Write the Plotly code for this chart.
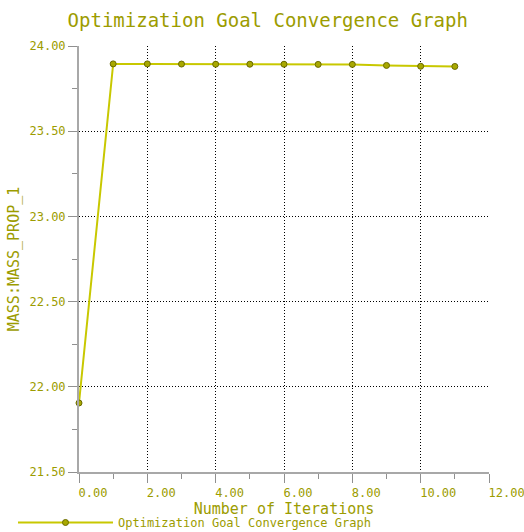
import plotly.graph_objects as go

iterations = [0, 1, 2, 3, 4, 5, 6, 7, 8, 9, 10, 11]
mass_values = [21.905, 23.895, 23.895, 23.894, 23.893, 23.893, 23.893, 23.892, 23.892, 23.886, 23.881, 23.880]
x_ticks = [0, 2, 4, 6, 8, 10, 12]
y_ticks = [21.5, 22.0, 22.5, 23.0, 23.5, 24.0]

TXT = "#9c9c00"
FONT = "DejaVu Sans Mono"

fig = go.Figure()
fig.add_trace(go.Scatter(
    x=iterations, y=mass_values, mode="lines+markers",
    name="Optimization Goal Convergence Graph",
    line=dict(color="#c8c800", width=2),
    marker=dict(symbol="circle", size=6, color="#a8a800", line=dict(color="#6b6b00", width=1)),
    cliponaxis=False,
))

fig.update_layout(
    width=524, height=532,
    margin=dict(l=79, r=35, t=46, b=60, autoexpand=False),
    paper_bgcolor="white", plot_bgcolor="white",
    font=dict(family=FONT, color=TXT, size=12),
    title=dict(text="Optimization Goal Convergence Graph", x=0.511, xanchor="center",
               y=1 - 20 / 532, yanchor="middle", font=dict(family=FONT, size=19, color=TXT)),
    showlegend=True,
    legend=dict(orientation="h", x=-0.161, xanchor="left", y=-0.0845, yanchor="top",
                itemwidth=95, font=dict(family=FONT, size=12, color=TXT),
                bgcolor="rgba(0,0,0,0)"),
)

fig.update_xaxes(
    range=[0, 12], tickvals=x_ticks, tickformat=".2f",
    ticklabelposition="outside right", automargin=False,
    ticklabeloverflow="allow", ticklabelstandoff=9, ticklabelshift=-2,
    showgrid=True, gridcolor="black", griddash="1px,2px", gridwidth=1,
    showline=True, linecolor="#a8a8a8", linewidth=2,
    ticks="outside", ticklen=9, tickcolor="#909090", tickwidth=1,
    minor=dict(dtick=1, ticks="outside", ticklen=5, tickcolor="#909090", showgrid=False),
    zeroline=False,
    tickfont=dict(family=FONT, size=12, color=TXT),
    title=dict(text="Number of Iterations", standoff=1, font=dict(family=FONT, size=15, color=TXT)),
)
fig.update_yaxes(
    range=[21.5, 24.0], tickvals=y_ticks, tickformat=".2f", automargin=False,
    showgrid=True, gridcolor="black", griddash="1px,2px", gridwidth=1,
    showline=True, linecolor="#a8a8a8", linewidth=2,
    ticks="outside", ticklen=9, tickcolor="#909090", tickwidth=1,
    minor=dict(dtick=0.25, ticks="outside", ticklen=5, tickcolor="#909090", showgrid=False),
    zeroline=False,
    tickfont=dict(family=FONT, size=12, color=TXT),
    title=dict(text="MASS:MASS_PROP_1", standoff=6, font=dict(family=FONT, size=15, color=TXT)),
)

fig.write_html("out.html", config={"displayModeBar": False},
               post_script="document.body.style.margin='0';document.body.style.overflow='hidden';")
